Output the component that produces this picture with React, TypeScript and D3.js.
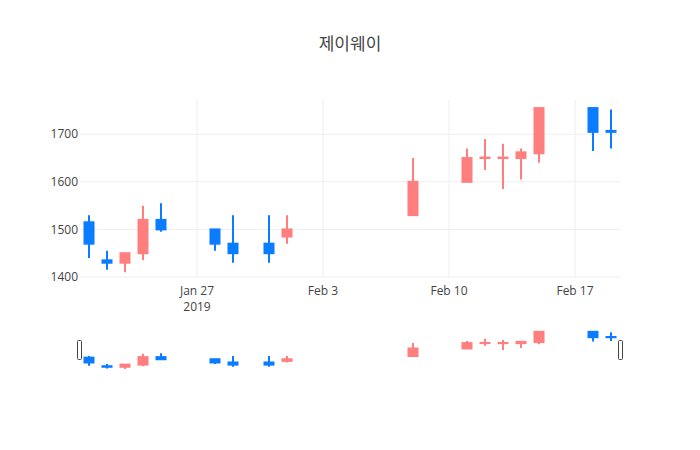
import React from 'react';
import * as d3 from 'd3';

// 제이웨이 daily candles, Jan 21 - Feb 19 2019

const title = '제이웨이';
const dates = [
  '2019-01-21', '2019-01-22', '2019-01-23', '2019-01-24', '2019-01-25',
  '2019-01-28', '2019-01-29', '2019-01-31', '2019-02-01', '2019-02-08',
  '2019-02-11', '2019-02-12', '2019-02-13', '2019-02-14', '2019-02-15',
  '2019-02-18', '2019-02-19',
];
const opens = [1515, 1435, 1430, 1450, 1520, 1500, 1470, 1470, 1485, 1530, 1600, 1650, 1650, 1650, 1660, 1755, 1707];
const highs = [1530, 1455, 1450, 1550, 1555, 1500, 1530, 1530, 1530, 1650, 1670, 1690, 1680, 1670, 1755, 1755, 1752];
const lows = [1440, 1415, 1410, 1435, 1495, 1455, 1430, 1430, 1470, 1530, 1600, 1625, 1585, 1605, 1640, 1665, 1670];
const closes = [1470, 1430, 1450, 1520, 1500, 1470, 1450, 1450, 1500, 1600, 1650, 1651, 1651, 1662, 1755, 1705, 1705];

const yTicks = [1400, 1500, 1600, 1700];
const xTicks = ['2019-01-27', '2019-02-03', '2019-02-10', '2019-02-17'];
const xTickLabels = ['Jan 27', 'Feb 3', 'Feb 10', 'Feb 17'];
const xTickYear = ['2019', '', '', ''];

const UP = '#ff7f7f';
const DOWN = '#0a7cff';
const FONT = '"Open Sans", verdana, arial, sans-serif';
const DAY = 24 * 3600 * 1000;

const parse = d3.utcParse('%Y-%m-%d');

const App = () => {
  const width = 700;
  const height = 450;
  const plot = { left: 80, right: 620, top: 100, bottom: 277 };
  const slider = { top: 330, bottom: 370 };

  const data = dates.map((d, i) => ({
    date: parse(d) as Date,
    o: opens[i],
    h: highs[i],
    l: lows[i],
    c: closes[i],
  }));

  const first = data[0].date.getTime();
  const last = data[data.length - 1].date.getTime();

  const x = d3
    .scaleUtc()
    .domain([new Date(first - DAY / 2), new Date(last + DAY / 2)])
    .range([plot.left, plot.right]);

  const y = d3.scaleLinear().domain([1400, 1772]).range([plot.bottom, plot.top]);
  const ySlider = d3.scaleLinear().domain([1400, 1772]).range([slider.bottom, slider.top]);

  const boxW = x(new Date(first + DAY / 2)) - x(new Date(first)); // half a day

  const candles = (ys: d3.ScaleLinear<number, number>, key: string) =>
    data.map((d, i) => {
      const color = d.c > d.o ? UP : DOWN;
      const cx = x(d.date);
      const top = ys(Math.max(d.o, d.c));
      const bot = ys(Math.min(d.o, d.c));
      return (
        <g key={key + i}>
          <line x1={cx} x2={cx} y1={ys(d.h)} y2={ys(d.l)} stroke={color} strokeWidth={2} />
          <rect
            x={cx - boxW / 2}
            y={top}
            width={boxW}
            height={Math.max(bot - top, 0.01)}
            fill={color}
            stroke={color}
            strokeWidth={2}
          />
        </g>
      );
    });

  return (
    <svg
      width={width}
      height={height}
      style={{ position: 'absolute', left: 0, top: 0, background: '#fff' }}
    >
      <rect width={width} height={height} fill="#fff" />

      {/* grid */}
      {yTicks.map(t => (
        <line key={'gy' + t} x1={plot.left} x2={plot.right} y1={y(t)} y2={y(t)} stroke="#eee" />
      ))}
      {xTicks.map(t => (
        <line
          key={'gx' + t}
          x1={x(parse(t) as Date)}
          x2={x(parse(t) as Date)}
          y1={plot.top}
          y2={plot.bottom}
          stroke="#eee"
        />
      ))}

      {/* y labels */}
      {yTicks.map(t => (
        <text
          key={'ty' + t}
          x={plot.left - 2}
          y={y(t)}
          dy="0.35em"
          textAnchor="end"
          fontFamily={FONT}
          fontSize={12}
          fill="#444"
        >
          {t}
        </text>
      ))}

      {/* x labels */}
      {xTicks.map((t, i) => (
        <text
          key={'tx' + t}
          x={x(parse(t) as Date)}
          y={295}
          textAnchor="middle"
          fontFamily={FONT}
          fontSize={12}
          fill="#444"
        >
          <tspan x={x(parse(t) as Date)}>{xTickLabels[i]}</tspan>
          {xTickYear[i] && (
            <tspan x={x(parse(t) as Date)} dy={15.6}>
              {xTickYear[i]}
            </tspan>
          )}
        </text>
      ))}

      <clipPath id="plotclip">
        <rect x={plot.left} y={plot.top} width={plot.right - plot.left} height={plot.bottom - plot.top} />
      </clipPath>
      <g clipPath="url(#plotclip)">{candles(y, 'm')}</g>

      {/* range slider */}
      <g>{candles(ySlider, 's')}</g>
      <rect x={plot.left - 2.5} y={340.5} width={4} height={19} rx={1} ry={1} fill="#fff" stroke="#444" />
      <rect x={plot.right - 1.5} y={340.5} width={4} height={19} rx={1} ry={1} fill="#fff" stroke="#444" />

      <text
        x={width / 2}
        y={50}
        textAnchor="middle"
        fontFamily={'"Open Sans", "Noto Sans CJK KR", sans-serif'}
        fontSize={17}
        fill="#444"
      >
        {title}
      </text>
    </svg>
  );
};

export default App;
